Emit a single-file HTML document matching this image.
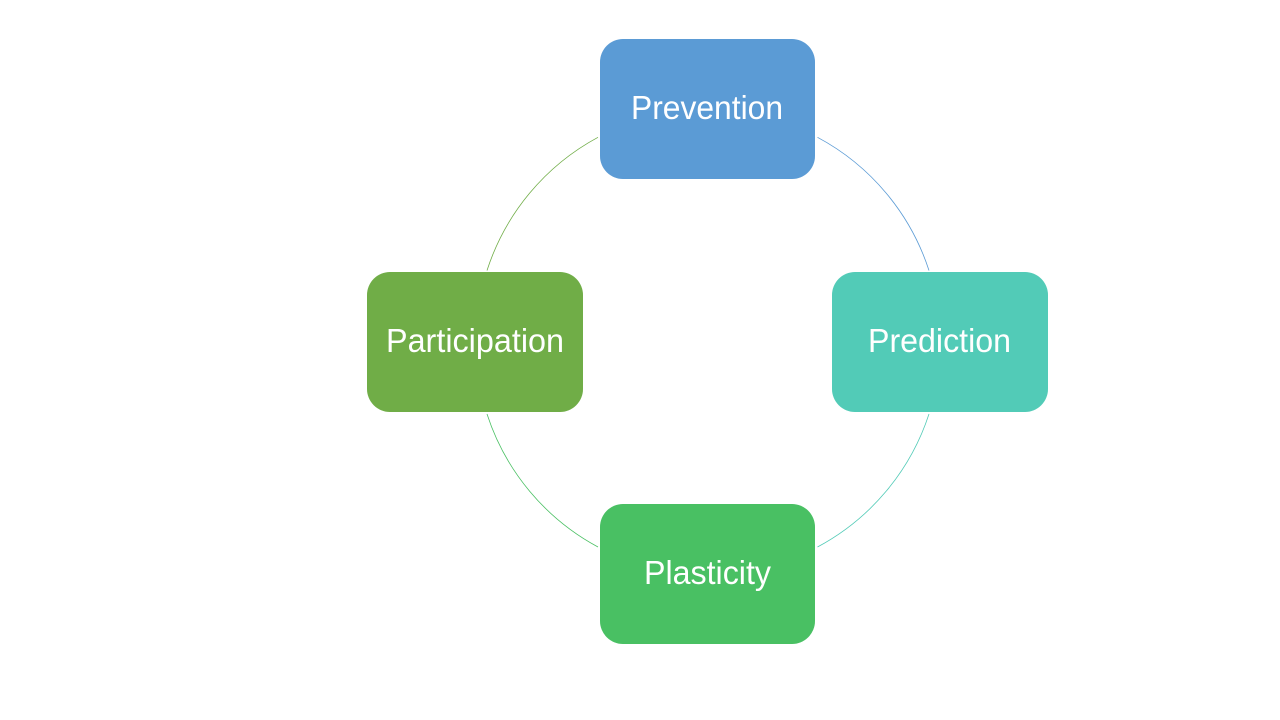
<!DOCTYPE html>
<html lang="en">
<head>
<meta charset="utf-8">
<title>Cycle diagram</title>
<style>
html,body{margin:0;padding:0;background:#fff;width:1280px;height:720px;overflow:hidden}
svg{display:block}
text{font-family:"Liberation Sans",sans-serif;font-size:33px;fill:#fff}
</style>
</head>
<body>
<svg width="1280" height="720" viewBox="0 0 1280 720" xmlns="http://www.w3.org/2000/svg">
<rect width="1280" height="720" fill="#fff"/>
<g fill="none" stroke-width="0.8">
<path d="M817.5 137.3A232.5 232.5 0 0 1 929 270.5" stroke="#5b9bd5"/>
<path d="M929 414A232.5 232.5 0 0 1 817.5 547" stroke="#52cbb7"/>
<path d="M598 547A232.5 232.5 0 0 1 487 414" stroke="#4ac063"/>
<path d="M487 270.5A232.5 232.5 0 0 1 598 137.3" stroke="#70ad47"/>
</g>
<rect x="600" y="39" width="215" height="140" rx="23" fill="#5b9bd5"/>
<rect x="832" y="272" width="216" height="140" rx="23" fill="#52cbb7"/>
<rect x="600" y="504" width="215" height="140" rx="23" fill="#49c063"/>
<rect x="367" y="272" width="216" height="140" rx="23" fill="#70ad47"/>
<text x="631" y="119" textLength="152" lengthAdjust="spacingAndGlyphs">Prevention</text>
<text x="868" y="352" textLength="143" lengthAdjust="spacingAndGlyphs">Prediction</text>
<text x="644" y="584" textLength="127" lengthAdjust="spacingAndGlyphs">Plasticity</text>
<text x="386" y="352" textLength="178" lengthAdjust="spacingAndGlyphs">Participation</text>
</svg>
</body>
</html>
